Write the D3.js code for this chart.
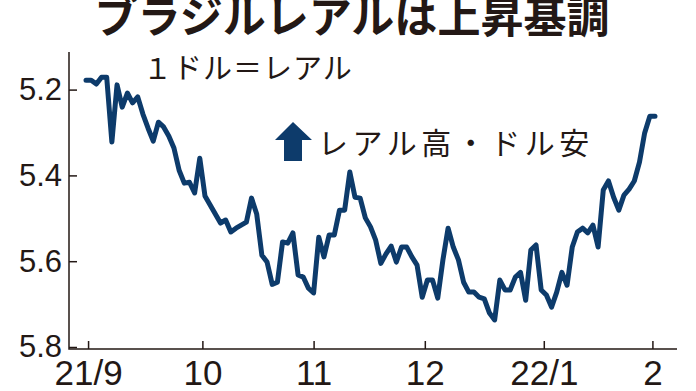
<!DOCTYPE html>
<html lang="ja">
<head>
<meta charset="UTF-8">
<title>ブラジルレアルは上昇基調</title>
<script src="https://cdn.jsdelivr.net/npm/d3@7"></script>
<style>
  body { margin: 0; background: #fff; }
  svg { display: block; }
  .jp { font-family: "Noto Sans CJK JP", "Noto Sans", sans-serif; fill: #231815; }
  .tick text { font-family: "Liberation Sans Narrow", "Liberation Sans", sans-serif; fill: #231815; }
  .tick line { stroke: #231815; stroke-width: 1.5; }
</style>
</head>
<body>
<script>
// 1ドル=レアル, trading days from 21/8/31 to 22/2/1
const rate = [
  5.178, 5.178, 5.187, 5.171, 5.171, 5.322, 5.189, 5.241, 5.208, 5.231,
  5.217, 5.257, 5.290, 5.320, 5.276, 5.287, 5.308, 5.336, 5.388, 5.418,
  5.416, 5.441, 5.360, 5.448, 5.469, 5.490, 5.511, 5.504, 5.532, 5.523,
  5.516, 5.509, 5.453, 5.490, 5.586, 5.602, 5.654, 5.649, 5.555, 5.558,
  5.534, 5.632, 5.637, 5.663, 5.674, 5.544, 5.590, 5.539, 5.539, 5.481,
  5.481, 5.392, 5.451, 5.453, 5.499, 5.520, 5.551, 5.605, 5.583, 5.565,
  5.602, 5.567, 5.567, 5.590, 5.609, 5.684, 5.644, 5.644, 5.686, 5.597,
  5.523, 5.567, 5.597, 5.649, 5.672, 5.672, 5.684, 5.688, 5.721, 5.737,
  5.644, 5.667, 5.667, 5.637, 5.626, 5.691, 5.574, 5.562, 5.667, 5.679,
  5.707, 5.672, 5.626, 5.656, 5.567, 5.532, 5.523, 5.534, 5.516, 5.567,
  5.434, 5.413, 5.451, 5.481, 5.446, 5.432, 5.413, 5.369, 5.301, 5.262,
  5.262
];
// month starts, as positions in the trading-day index
const monthIdx = [0.4, 22.5, 44, 65.5, 88.5, 109.5];
const monthLabels = ["21/9", "10", "11", "12", "22/1", "2"];
const yTicks = [5.2, 5.4, 5.6, 5.8];

const W = 696, H = 391;
const svg = d3.select("body").append("svg")
  .attr("width", W).attr("height", H);

const x = d3.scaleLinear().domain([0, rate.length - 1]).range([86, 655]);
// inverted: real strength goes up
const y = d3.scaleLinear().domain([5.2, 5.8]).range([89.6, 347]);

const axisX = 69, axisY = 349;

// title
svg.append("text").attr("class", "jp")
  .attr("x", 352).attr("y", 33)
  .attr("text-anchor", "middle")
  .attr("font-size", 43).attr("font-weight", "bold")
  .attr("textLength", 515).attr("lengthAdjust", "spacingAndGlyphs")
  .text("ブラジルレアルは上昇基調");

// unit
svg.append("text").attr("class", "jp")
  .attr("x", 143).attr("y", 79)
  .attr("font-size", 29)
  .attr("letter-spacing", 1)
  .text("１ドル＝レアル");

// y axis
const gy = svg.append("g")
  .attr("transform", `translate(${axisX},0)`)
  .call(d3.axisLeft(y).tickValues(yTicks).tickSize(-8).tickPadding(7)
    .tickFormat(d3.format(".1f")));
gy.select(".domain").remove();
gy.selectAll("text").attr("font-size", 31);

// x axis
const gx = svg.append("g")
  .attr("transform", `translate(0,${axisY})`)
  .call(d3.axisBottom(x).tickValues(monthIdx).tickSize(-8).tickPadding(11)
    .tickFormat((d, i) => monthLabels[i]));
gx.select(".domain").remove();
gx.selectAll("text").attr("font-size", 35);

// axis lines
svg.append("path")
  .attr("d", `M${axisX},52V${axisY}H677`)
  .attr("fill", "none")
  .attr("stroke", "#231815")
  .attr("stroke-width", 1.5);

// rate line
const line = d3.line()
  .x((d, i) => x(i))
  .y(d => y(d));

svg.append("path")
  .datum(rate)
  .attr("d", line)
  .attr("fill", "none")
  .attr("stroke", "#0d3b6b")
  .attr("stroke-width", 5)
  .attr("stroke-linejoin", "round")
  .attr("stroke-linecap", "round");

// note: arrow + text
svg.append("path")
  .attr("d", "M293,122L312,140H302V161H284V140H275Z")
  .attr("fill", "#0d3b6b");

svg.append("text").attr("class", "jp")
  .attr("x", 318).attr("y", 154)
  .attr("font-size", 30)
  .attr("letter-spacing", 4.5)
  .text("レアル高・ドル安");
</script>
</body>
</html>
